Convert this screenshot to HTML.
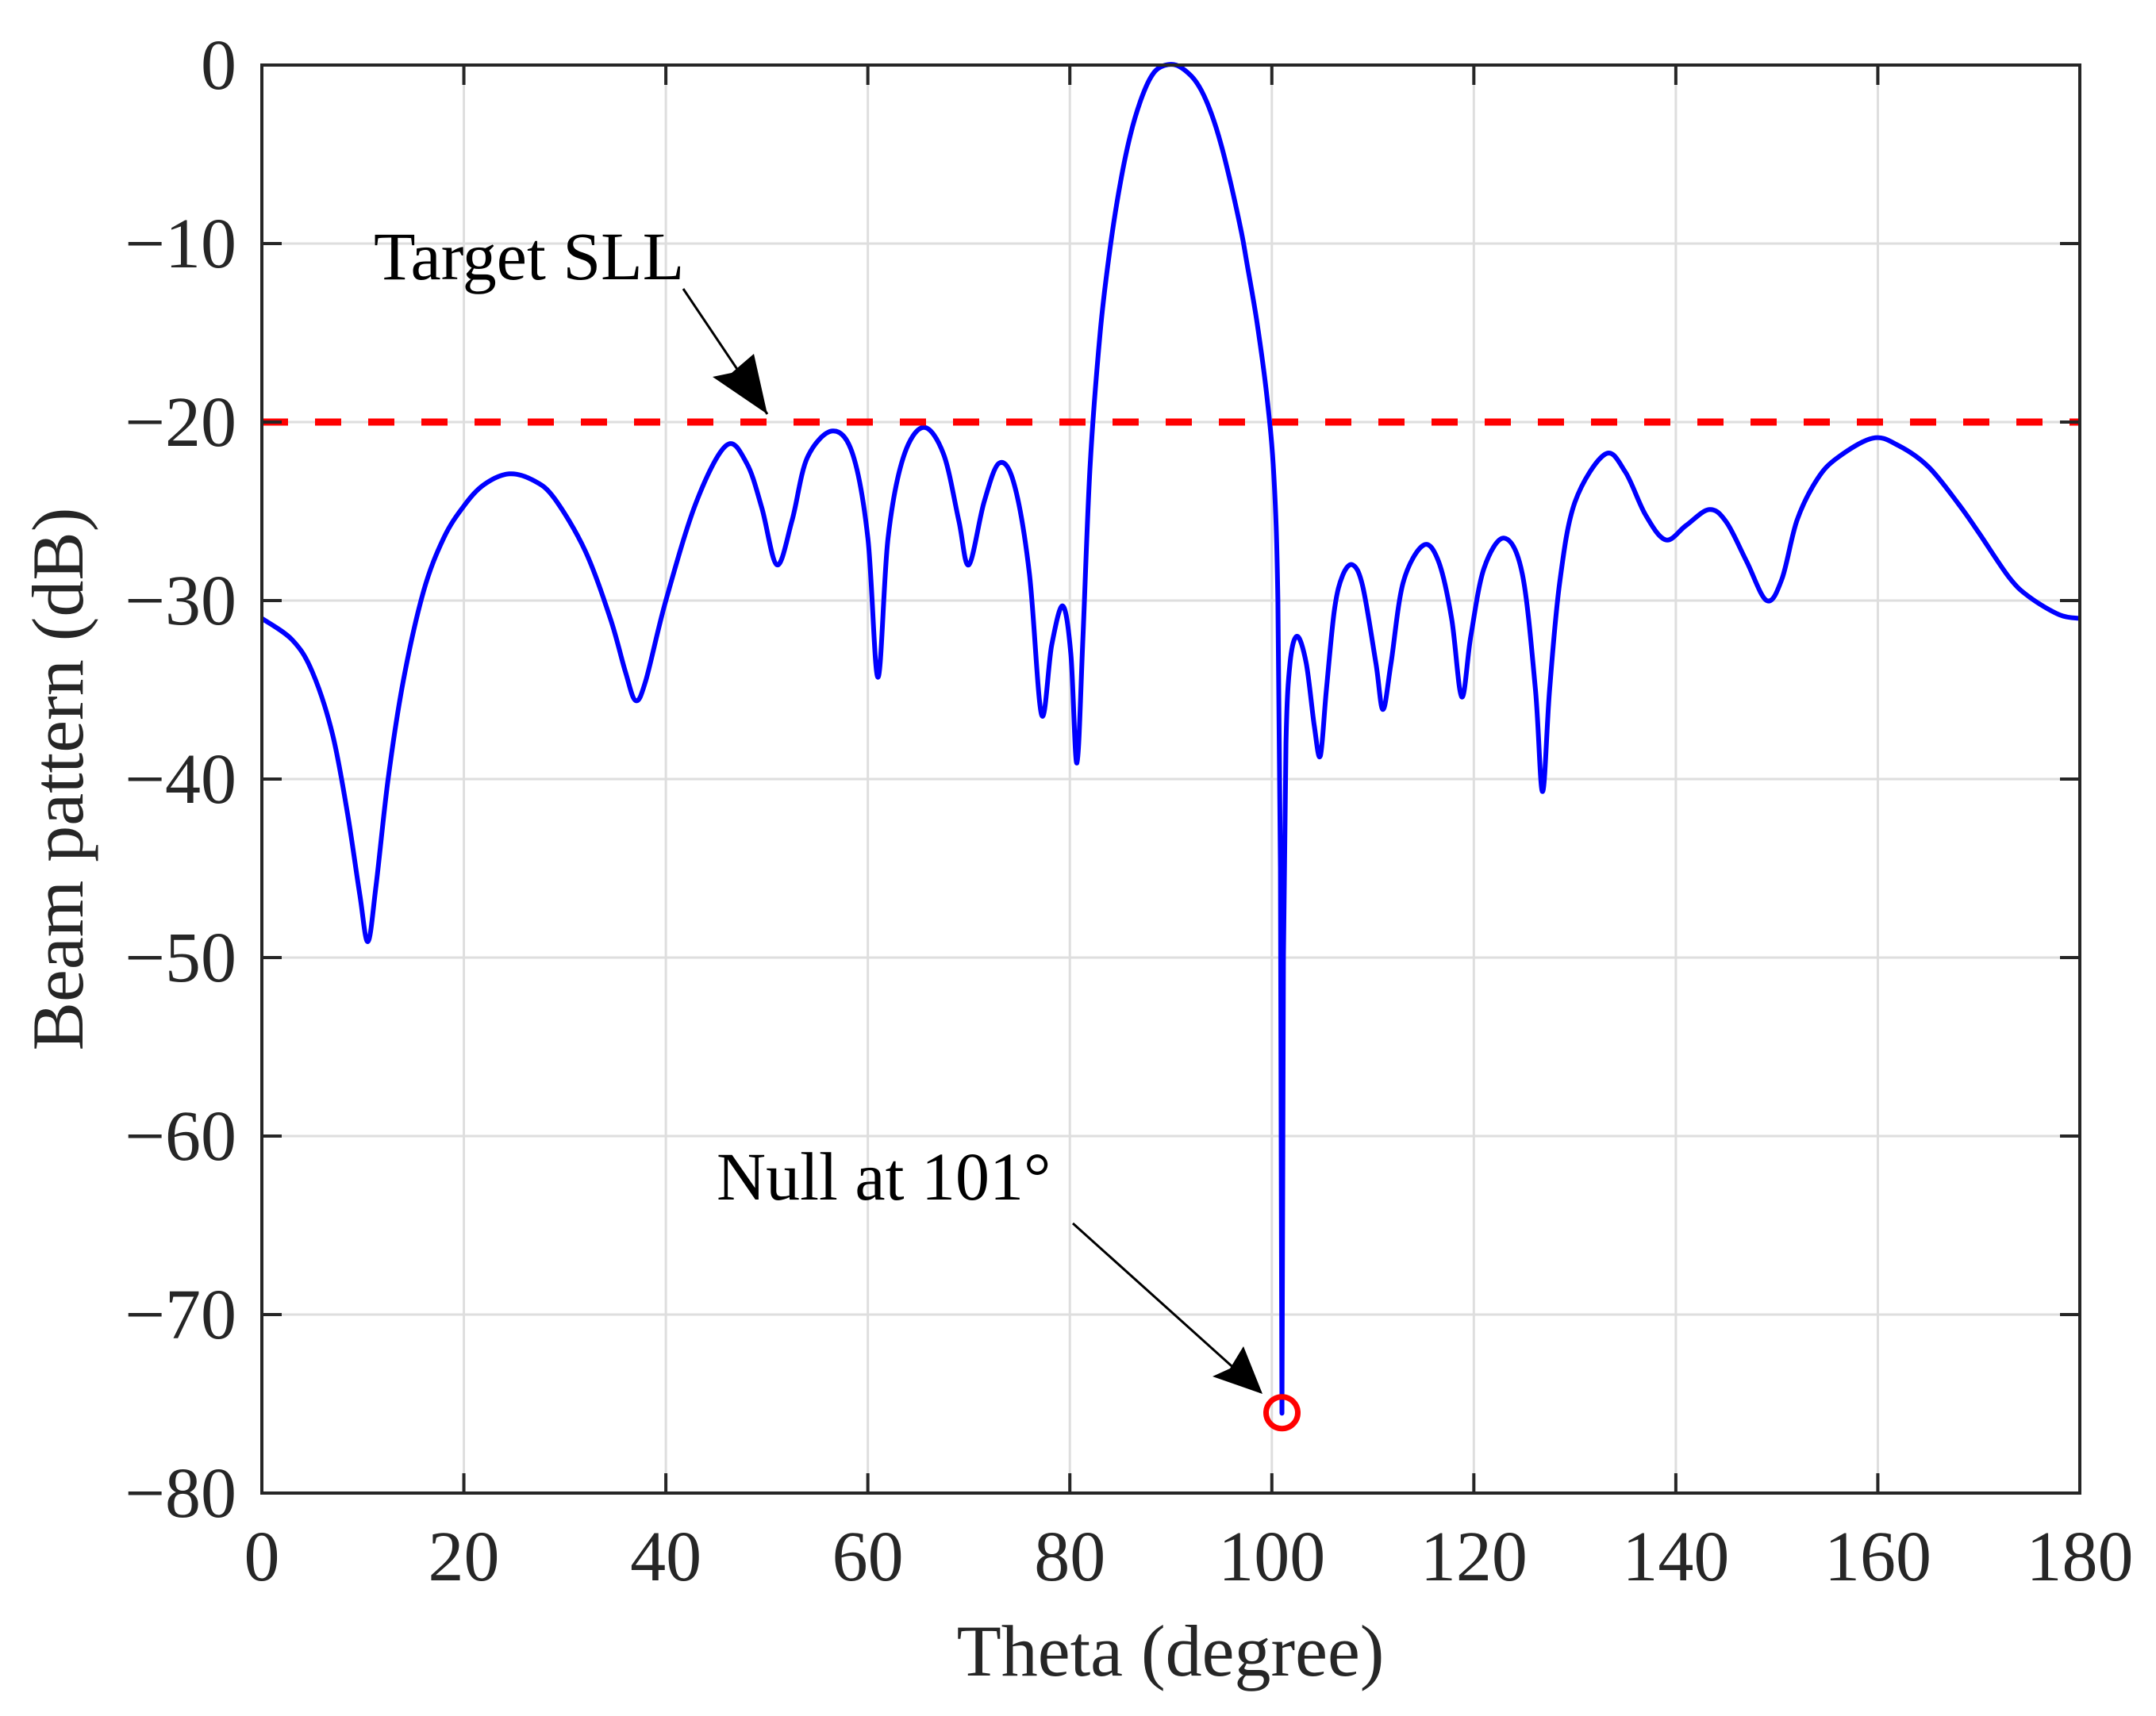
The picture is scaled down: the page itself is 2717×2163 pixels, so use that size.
<!DOCTYPE html>
<html><head><meta charset="utf-8"><style>
html,body{margin:0;padding:0;background:#fff;}
svg{display:block;}
text{font-family:"Liberation Serif",serif;fill:#262626;}
</style></head><body>
<svg id="chart" width="2717" height="2163" viewBox="0 0 2717 2163" xmlns="http://www.w3.org/2000/svg">
<g id="grid"></g>
<g id="plot"></g>
<g id="axes"></g>
<text x="1475" y="2112" font-size="92" text-anchor="middle">Theta (degree)</text>
<text x="0" y="0" font-size="92" text-anchor="middle" transform="translate(104,982) rotate(-90)">Beam pattern (dB)</text>
<g>
<text x="471" y="352" font-size="86" style="fill:#000">Target SLL</text>
<line x1="861" y1="364" x2="967" y2="522" stroke="#000" stroke-width="3"/>
<path d="M967,522 L898,475 L922,470 L950,446 Z" fill="#000"/>
</g>
<g>
<text x="903" y="1512" font-size="86" style="fill:#000">Null at 101°</text>
<line x1="1352" y1="1542" x2="1589" y2="1755" stroke="#000" stroke-width="3"/>
<path d="M1591,1757 L1528,1735 L1550,1725 L1567,1697 Z" fill="#000"/>
</g>
</svg>
<script>
const thetaDeg=[0,3,5,7,8.5,9.7,10.5,11.3,12.5,14,16,18,20,22,24.5,27,29,32,34.5,36,37,38,40,43,46,48,49.5,51,52.5,54,56.5,58.5,60,61,62,63.5,65.5,67.5,69,70,71.5,73,74.5,76,77.2,78.2,79.3,80.1,80.7,81.3,82,83,84,85,86,87,88,89,90.5,92,93,94,95,96,97,97.5,98.5,99.5,100.2,100.6,100.85,101,101.15,101.4,101.8,102.5,103.4,104.2,104.8,105.4,106.2,107,108,109,110.3,111,111.8,113,115,116.5,117.8,118.8,119.7,121,123,124.8,126.1,126.8,127.5,128.5,130,133,135,137,139,141,143.3,145,147,149,150.5,152,154,156,159.5,162,165,168,170,173,175,178,180];
const beamDb=[-31,-32.2,-34,-37.5,-42,-46.5,-49.1,-46,-40,-34.5,-29.5,-26.5,-24.7,-23.5,-22.9,-23.3,-24.3,-27.2,-31,-34,-35.6,-34.5,-30,-24.5,-21.3,-22.3,-24.8,-28,-25.5,-22,-20.5,-21.8,-26.5,-34.3,-26.5,-22,-20.3,-21.8,-25.5,-28,-24.5,-22.3,-23.5,-28.5,-36.4,-32.5,-30.3,-33,-39.1,-32,-22.5,-15,-10.2,-6.6,-3.9,-2,-0.7,-0.1,0,-0.6,-1.4,-2.7,-4.5,-6.8,-9.4,-11,-14.3,-18.5,-23,-30,-45,-75.5,-50,-38,-33.5,-32,-33.5,-37,-38.7,-35,-30.5,-28.6,-28,-29.2,-33.5,-36.1,-33.5,-29,-26.9,-27.8,-31,-35.4,-32,-28.2,-26.5,-28.5,-35,-40.7,-35,-29,-24.5,-21.8,-22.8,-25.2,-26.6,-25.8,-24.9,-25.6,-27.8,-30,-28.8,-25.5,-23.2,-22,-20.9,-21.3,-22.5,-24.6,-26.2,-28.7,-29.8,-30.8,-31];
const xTicks=[0,20,40,60,80,100,120,140,160,180];
const yTicks=[0,-10,-20,-30,-40,-50,-60,-70,-80];
const sllLevel=[-20];
const nullPoint=[101,-75.5];

const L=330,R=2621,T=82,B=1882;
const X=v=>L+(v-0)/(180-0)*(R-L);
const Y=v=>T+(0-v)/(0-(-80))*(B-T);
const NS="http://www.w3.org/2000/svg";
function mk(tag,attrs,parent){const e=document.createElementNS(NS,tag);for(const k in attrs)e.setAttribute(k,attrs[k]);parent.appendChild(e);return e;}
const grid=document.getElementById('grid'),plot=document.getElementById('plot'),axes=document.getElementById('axes');

xTicks.forEach(t=>{
  const g=mk('line',{x1:X(t),x2:X(t),y1:T,y2:B,stroke:'#dedede','stroke-width':3},grid);
  
  
  const tk=mk('line',{x1:X(t),x2:X(t),y1:B,y2:B-25,stroke:'#262626','stroke-width':4},axes);
  
  
  const tk2=mk('line',{x1:X(t),x2:X(t),y1:T,y2:T+25,stroke:'#262626','stroke-width':4},axes);
  
  
  const lb=mk('text',{x:X(t),y:1992,'font-size':90,'text-anchor':'middle'},axes);
  lb.textContent=String(t);
  
  
});
yTicks.forEach(t=>{
  const g=mk('line',{x1:L,x2:R,y1:Y(t),y2:Y(t),stroke:'#dedede','stroke-width':3},grid);
  
  
  const tk=mk('line',{x1:L,x2:L+25,y1:Y(t),y2:Y(t),stroke:'#262626','stroke-width':4},axes);
  
  
  const tk2=mk('line',{x1:R,x2:R-25,y1:Y(t),y2:Y(t),stroke:'#262626','stroke-width':4},axes);
  
  
  const lb=mk('text',{x:298,y:Y(t)+30,'font-size':90,'text-anchor':'end'},axes);
  lb.textContent=t<0?'\u2212'+Math.abs(t):String(t);
  
  
});
const frame=mk('rect',{x:L,y:T,width:R-L,height:B-T,fill:'none',stroke:'#262626','stroke-width':4},axes);



const pts=thetaDeg.map((t,i)=>[X(t),Y(beamDb[i])]);
let d='M'+pts[0][0].toFixed(1)+','+pts[0][1].toFixed(1);
for(let i=0;i<pts.length-1;i++){
  const p0=pts[Math.max(0,i-1)],p1=pts[i],p2=pts[i+1],p3=pts[Math.min(pts.length-1,i+2)];
  const c1=[p1[0]+(p2[0]-p0[0])/6,p1[1]+(p2[1]-p0[1])/6];
  const c2=[p2[0]-(p3[0]-p1[0])/6,p2[1]-(p3[1]-p1[1])/6];
  d+=' C'+c1[0].toFixed(1)+','+c1[1].toFixed(1)+' '+c2[0].toFixed(1)+','+c2[1].toFixed(1)+' '+p2[0].toFixed(1)+','+p2[1].toFixed(1);
}
const curve=mk('path',{d:d,fill:'none',stroke:'#0000ff','stroke-width':6,'stroke-linejoin':'round'},plot);



const sll=mk('line',{x1:L,x2:R,y1:Y(sllLevel[0]),y2:Y(sllLevel[0]),stroke:'#ff0000','stroke-width':9,'stroke-dasharray':'33 34'},plot);



const mkc=mk('circle',{cx:X(nullPoint[0]),cy:Y(nullPoint[1]),r:20,fill:'none',stroke:'#ff0000','stroke-width':7},plot);


</script>
</body></html>
